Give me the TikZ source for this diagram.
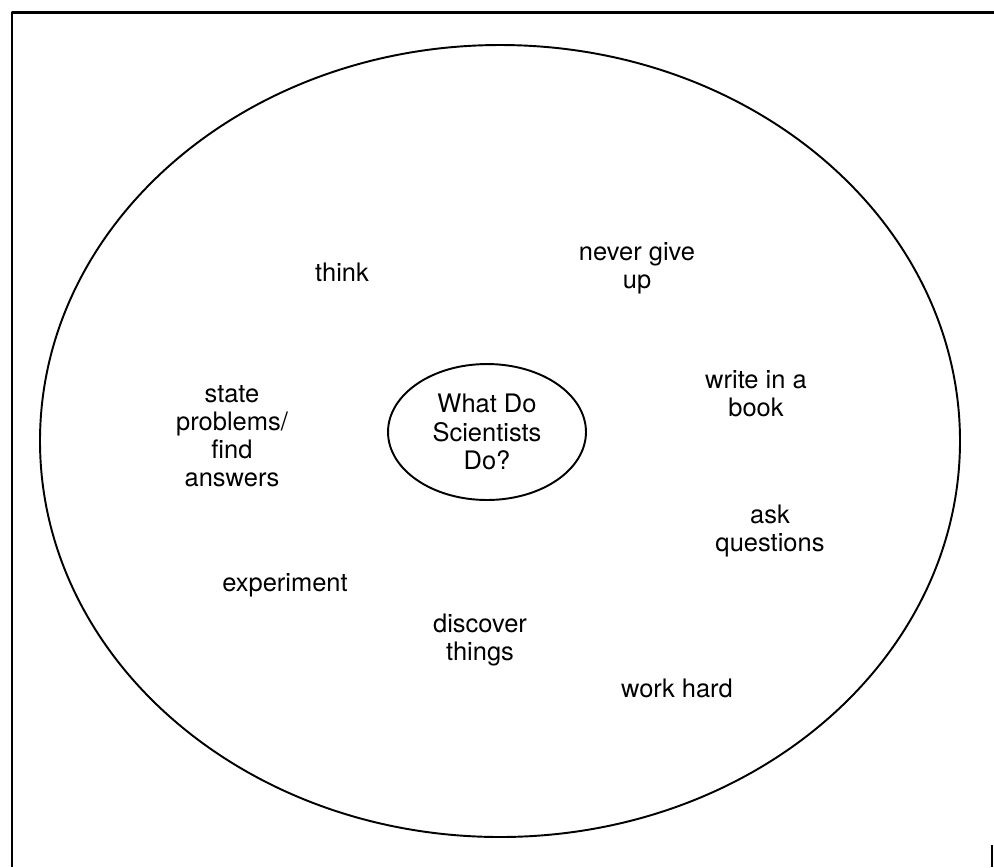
\documentclass[tikz,border=0pt]{standalone}
\usepackage{fontspec}
\setmainfont{TeX Gyre Heros}
\usepackage{xcolor}
\usetikzlibrary{shapes.geometric}

\tikzset{
  word/.style={align=center,inner sep=0pt,font=\fontsize{14.5}{16}\selectfont},
  hub/.style={ellipse,draw,line width=1.1pt,minimum width=3.96cm,minimum height=2.72cm,inner sep=0pt}
}

\begin{document}
\begin{tikzpicture}[x=0.02cm,y=-0.02cm,line join=round]
  \useasboundingbox (0,0) rectangle (994,867);
  \coordinate (TL) at (12,12);
  \coordinate (BL) at (12,867);
  \coordinate (TR) at (994,12);
  \coordinate (RB0) at (992,845);
  \coordinate (RB1) at (992,867);
  \coordinate (O) at (500,441);
  % frame
  \draw[line width=1.7pt] (BL) -- (TL) -- (TR);
  \draw[line width=1.2pt] (RB0) -- (RB1);
  % outer ring
  \draw[line width=1.1pt] (O) ellipse [x radius=460,y radius=396];
  \node[hub] (Q) at (487,432) {};
  \node[word] (Qt) at (487,432) {What Do\\Scientists\\Do?};
  \node[word] (think) at (342,272) {think};
  \node[word] (never) at (637,268) {never give\\up};
  \node[word] (write) at (756,394) {write in a\\book};
  \node[word] (state) at (232,436) {state\\problems/\\find\\answers};
  \node[word] (ask) at (770,531) {ask\\questions};
  \node[word] (exper) at (285,585) {experiment};
  \node[word] (disc) at (480,640) {discover\\things};
  \node[word] (work) at (677,688) {work hard};
\end{tikzpicture}
\end{document}
